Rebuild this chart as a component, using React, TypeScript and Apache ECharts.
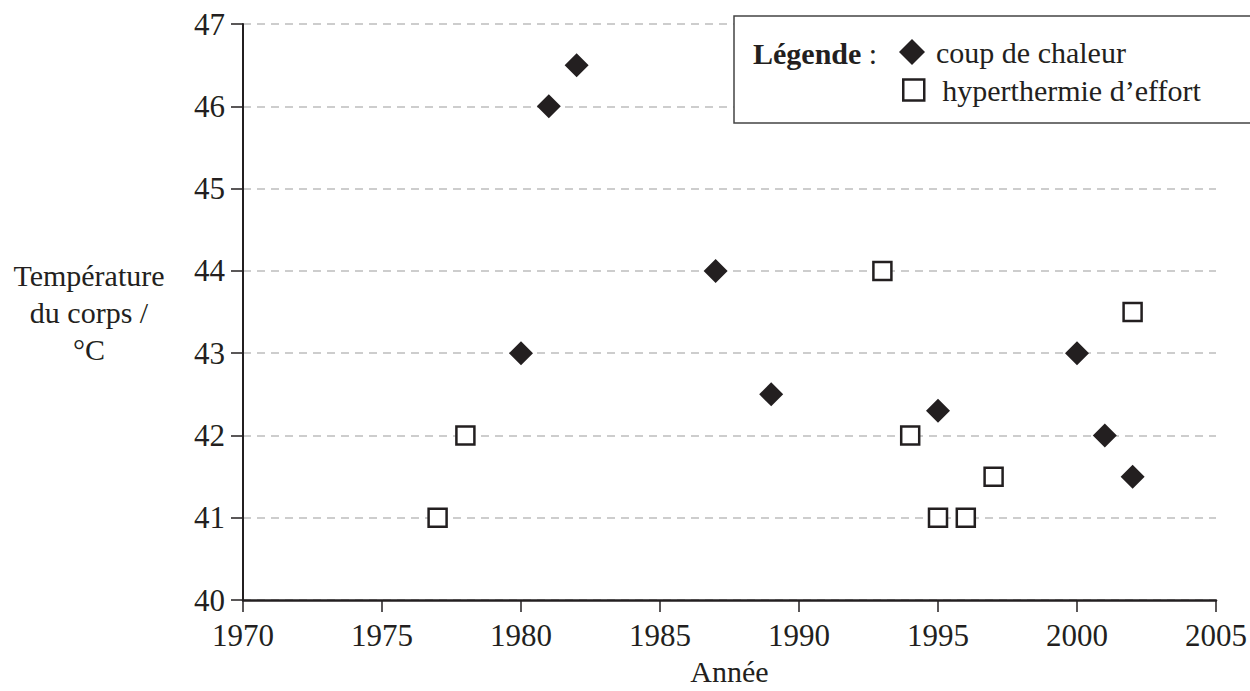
import React, { useEffect, useRef } from "react";
import * as echarts from "echarts";

const heatStrokeYears = [1980, 1981, 1982, 1987, 1989, 1995, 2000, 2001, 2002];
const heatStrokeTemps = [43, 46, 46.5, 44, 42.5, 42.3, 43, 42, 41.5];
const exertionYears = [1977, 1978, 1993, 1994, 1995, 1996, 1997, 2002];
const exertionTemps = [41, 42, 44, 42, 41, 41, 41.5, 43.5];
const seriesNames = ["coup de chaleur", "hyperthermie d\u2019effort"];
const yAxisTitle = "Température\ndu corps /\n°C";
const xAxisTitle = "Année";

const FONT = "'Liberation Serif', 'Times New Roman', serif";
const INK = "#231f20";

export default function App() {
  const ref = useRef<HTMLDivElement>(null);
  useEffect(() => {
    if (!ref.current) return;
    const chart = echarts.init(ref.current, undefined, { renderer: "svg" });
    const pairs = (xs: number[], ys: number[]) => xs.map((x, i) => [x, ys[i]]);
    const legendText = (pad: number) => ({
      fontFamily: FONT,
      fontSize: 30,
      color: INK,
      lineHeight: 30,
      padding: [0, 0, 0, pad],
    });
    chart.setOption({
      animation: false,
      backgroundColor: "#ffffff",
      textStyle: { fontFamily: FONT, color: INK },
      grid: { left: 243, right: 34, top: 24, bottom: 86, containLabel: false },
      xAxis: {
        type: "value",
        min: 1970,
        max: 2005,
        interval: 5,
        name: xAxisTitle,
        nameLocation: "middle",
        nameGap: 64,
        nameTextStyle: { fontFamily: FONT, fontSize: 30, color: INK, verticalAlign: "middle" },
        axisLine: { show: true, onZero: false, lineStyle: { color: INK, width: 2.5 } },
        axisTick: { show: true, length: 12, lineStyle: { color: INK, width: 1.5 } },
        axisLabel: {
          fontFamily: FONT,
          fontSize: 31,
          color: INK,
          margin: 20,
          formatter: (v: number) => String(v),
        },
        splitLine: { show: false },
      },
      yAxis: {
        type: "value",
        min: 40,
        max: 47,
        interval: 1,
        name: yAxisTitle,
        nameLocation: "middle",
        nameRotate: 0,
        nameGap: 154,
        nameTextStyle: {
          fontFamily: FONT,
          fontSize: 30,
          color: INK,
          align: "center",
          verticalAlign: "middle",
          lineHeight: 37,
        },
        axisLine: { show: true, onZero: false, lineStyle: { color: INK, width: 2 } },
        axisTick: { show: true, length: 12, lineStyle: { color: INK, width: 1.5 } },
        axisLabel: { fontFamily: FONT, fontSize: 31, color: INK, margin: 18 },
        splitLine: { show: true, lineStyle: { color: "#bdbdbd", width: 1.5, type: [8, 6] } },
      },
      legend: [
        {
          orient: "vertical",
          left: 894,
          top: 32,
          itemWidth: 26,
          itemHeight: 26,
          z: 6,
          textStyle: legendText(6),
          data: [{ name: seriesNames[0], icon: "diamond", itemStyle: { color: INK, opacity: 1 } }],
        },
        {
          orient: "vertical",
          left: 897,
          top: 70,
          itemWidth: 21,
          itemHeight: 21,
          z: 6,
          textStyle: legendText(13),
          data: [
            {
              name: seriesNames[1],
              icon: "rect",
              itemStyle: { color: "#ffffff", borderColor: INK, borderWidth: 2.5, opacity: 1 },
            },
          ],
        },
      ],
      graphic: [
        {
          type: "rect",
          z: 3,
          shape: { x: 734, y: 16, width: 530, height: 107 },
          style: { fill: "#ffffff", stroke: "#444444", lineWidth: 1.5 },
        },
        {
          type: "text",
          z: 6,
          x: 753,
          y: 53,
          style: {
            text: "{b|Légende} :",
            font: `30px ${FONT}`,
            fill: INK,
            verticalAlign: "middle",
            rich: { b: { fontFamily: FONT, fontSize: 30, fontWeight: "bold", fill: INK } },
          },
        },
      ],
      series: [
        {
          name: seriesNames[0],
          type: "scatter",
          symbol: "diamond",
          symbolSize: [24, 24],
          itemStyle: { color: INK, opacity: 1 },
          data: pairs(heatStrokeYears, heatStrokeTemps),
        },
        {
          name: seriesNames[1],
          type: "scatter",
          symbol: "rect",
          symbolSize: 18,
          itemStyle: { color: "#ffffff", borderColor: INK, borderWidth: 2.5, opacity: 1 },
          data: pairs(exertionYears, exertionTemps),
        },
      ],
    });
    return () => chart.dispose();
  }, []);
  return (
    <div
      ref={ref}
      style={{ position: "fixed", left: 0, top: 0, width: 1250, height: 691, background: "#fff" }}
    />
  );
}
